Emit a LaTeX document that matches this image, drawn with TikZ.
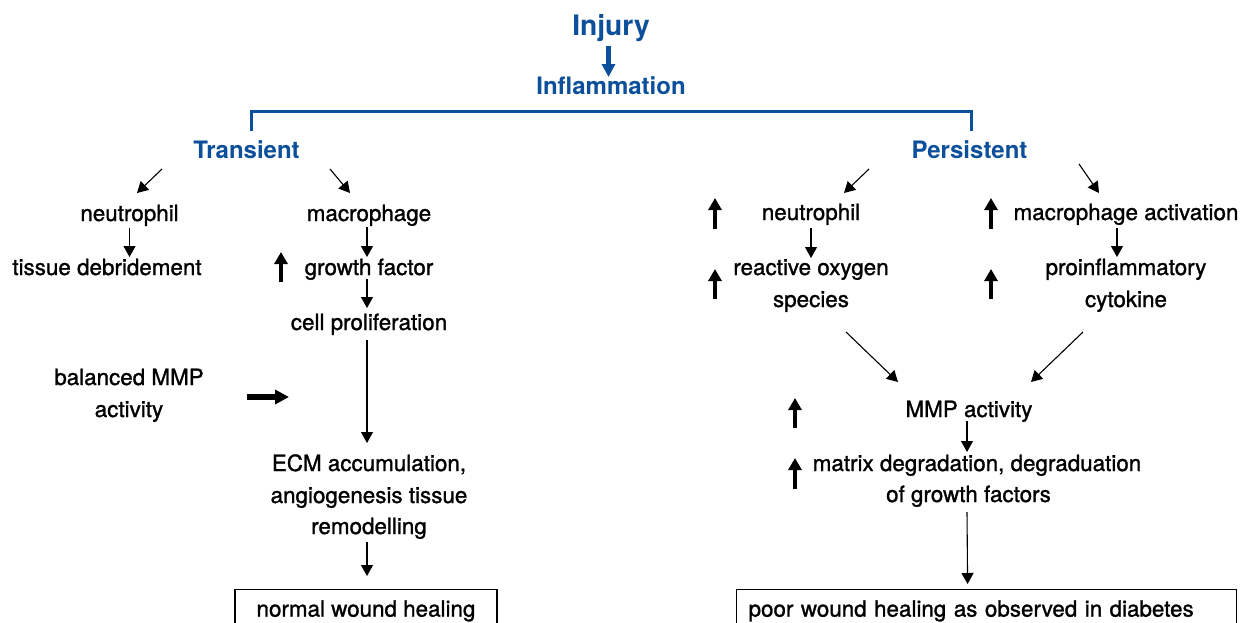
\documentclass[tikz,border=0pt]{standalone}
\usepackage{fontspec}
\setmainfont{TeX Gyre Heros}
\newfontfamily\medfont[FakeBold=1.2]{TeX Gyre Heros}
\usetikzlibrary{arrows.meta,calc}
\definecolor{injblue}{RGB}{12,80,155}
\begin{document}
\begin{tikzpicture}[x=0.5pt,y=-0.5pt,
  txt/.style={anchor=base, inner sep=0pt, font=\medfont\fontsize{11.2}{16}\selectfont},
  hd/.style={anchor=base, inner sep=0pt, text=injblue, font=\fontsize{12}{14}\bfseries\selectfont},
  arr/.style={-{Triangle[length=5.5pt,width=6pt]}, line width=0.55pt},
  uparr/.style={-{Triangle[length=6pt,width=6.5pt]}, line width=2pt},
  sidearr/.style={-{Triangle[length=7pt,width=7pt]}, line width=3pt},
  bluearr/.style={-{Triangle[length=6.5pt,width=6.5pt]}, line width=2.3pt, draw=injblue, fill=injblue},
  bracket/.style={draw=injblue, line width=1.5pt},
  outbox/.style={txt, draw, line width=0.6pt, minimum height=22pt, text height=8pt, text depth=3pt}]
\clip (0,0) rectangle (1248,622);
\fill[white] (0,0) rectangle (1248,622);

% top
\node[hd, font=\fontsize{14.1}{16}\bfseries\selectfont] (injury) at (611,35) {Injury};
\node[hd] (infl) at (611,94) {Inflammation};
\draw[bluearr] ($(injury.base)+(-2.5,11)$) -- ($(infl.base)+(-2.5,-17)$);

\node[hd] (trans) at (246.5,158) {Transient};
\node[hd] (pers) at (969.5,158) {Persistent};
\coordinate (bl) at (251,131);
\coordinate (br) at (971,131);
\draw[bracket] (bl) |- ($(infl.base)+(0,17)$) -| (br);

% left column
\node[txt] (neuL) at (129.5,221) {neutrophil};
\node[txt] (tisL) at (107,275) {tissue debridement};
\node[txt] (macL) at (369,221) {macrophage};
\node[txt] (gfL) at (369,275) {growth factor};
\node[txt] (cpL) at (369,330) {cell proliferation};
\node[txt] (bal1) at (129,385) {balanced MMP};
\node[txt] (bal2) at (129,417) {activity};
\node[txt] (ecm1) at (369,471) {ECM accumulation,};
\node[txt] (ecm2) at (369,503) {angiogenesis tissue};
\node[txt] (ecm3) at (369,534) {remodelling};
\node[outbox, anchor=north, minimum width=131pt] (normal) at (366,589) {normal wound healing};

\draw[arr] ($(trans.base)+(-84.5,11)$) -- ($(neuL.base)+(7.5,-28)$);
\draw[arr] ($(trans.base)+(83.5,11)$) -- ($(macL.base)+(-19,-28)$);
\draw[arr] ($(neuL.base)+(0,7)$) -- ($(tisL.base)+(22.5,-18)$);
\draw[arr] ($(macL.base)+(-2,6)$) -- ($(gfL.base)+(-2,-18)$);
\draw[arr] ($(gfL.base)+(-2,4)$) -- ($(cpL.base)+(-2,-22)$);
\draw[arr] ($(cpL.base)+(-2,10)$) -- ($(ecm1.base)+(-2,-28)$);
\draw[arr] ($(ecm3.base)+(-2,8)$) -- ($(normal.north)+(1,-13)$);
\draw[uparr] ($(gfL.base)+(-88,7)$) -- ($(gfL.base)+(-88,-23)$);
\draw[sidearr] ($(bal1.base)+(118,12)$) -- ($(bal1.base)+(160,12)$);

% right column
\node[txt] (neuR) at (811,220) {neutrophil};
\node[txt] (ros1) at (811,275) {reactive oxygen};
\node[txt] (ros2) at (811,307) {species};
\node[txt] (macR) at (1126,220) {macrophage activation};
\node[txt] (pro1) at (1126,275) {proinflammatory};
\node[txt] (cyt) at (1126,307) {cytokine};
\node[txt] (mmp) at (969,417) {MMP activity};
\node[txt] (mat1) at (977,471) {matrix degradation, degraduation};
\node[txt] (mat2) at (968.5,502) {of growth factors};
\node[outbox, anchor=north west, text width=238pt, inner xsep=6pt, align=left] (poor) at (736,589) {poor wound healing as observed in diabetes};

\draw[arr] ($(pers.base)+(-100.5,11)$) -- ($(neuR.base)+(33,-27)$);
\draw[arr] ($(pers.base)+(109.5,6)$) -- ($(macR.base)+(-27,-27)$);
\draw[arr] ($(neuR.base)+(0,8)$) -- ($(ros1.base)+(0,-17)$);
\draw[arr] ($(macR.base)+(-9,8)$) -- ($(pro1.base)+(-9,-18)$);
\draw[arr] ($(ros2.base)+(35,25)$) -- ($(mmp.base)+(-71,-35)$);
\draw[arr] ($(cyt.base)+(-43,25)$) -- ($(mmp.base)+(62,-35)$);
\draw[arr] ($(mmp.base)+(-2,4)$) -- ($(mat1.base)+(-10,-19)$);
\draw[arr] ($(mat2.base)+(-1.5,10)$) -- ($(poor.north)+(-19,-5)$);

\draw[uparr] ($(neuR.base)+(-96,9)$) -- ($(neuR.base)+(-96,-22)$);
\draw[uparr] ($(ros1.base)+(-96,24)$) -- ($(ros1.base)+(-96,-6)$);
\draw[uparr] ($(macR.base)+(-135,9)$) -- ($(macR.base)+(-135,-22)$);
\draw[uparr] ($(pro1.base)+(-135,24)$) -- ($(pro1.base)+(-135,-6)$);
\draw[uparr] ($(mmp.base)+(-174,11)$) -- ($(mmp.base)+(-174,-19)$);
\draw[uparr] ($(mat1.base)+(-182,18)$) -- ($(mat1.base)+(-182,-13)$);
\end{tikzpicture}
\end{document}
